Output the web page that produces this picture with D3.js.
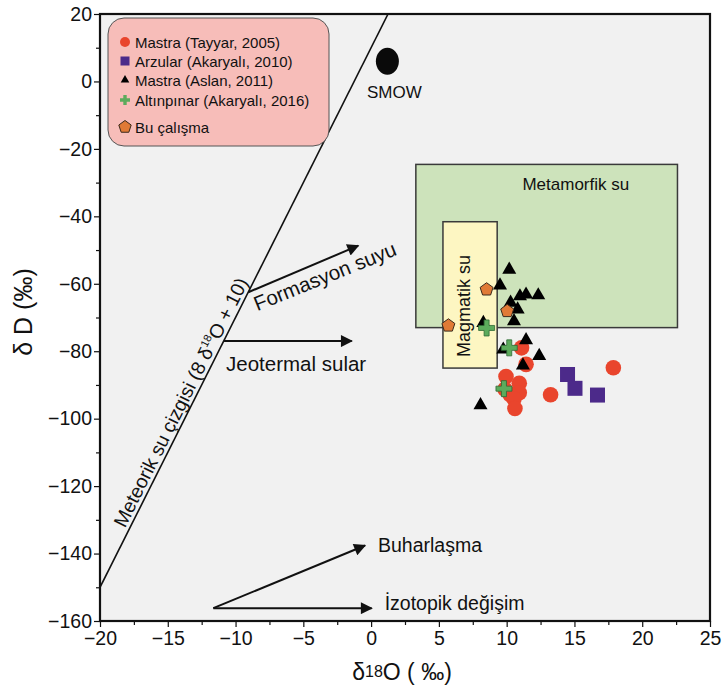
<!DOCTYPE html>
<html>
<head>
<meta charset="utf-8">
<script src="https://cdn.jsdelivr.net/npm/d3@7"></script>
<style>
  html, body { margin: 0; padding: 0; background: #ffffff; }
  svg { display: block; font-family: "Liberation Sans", Arial, sans-serif; }
</style>
</head>
<body>
<svg id="chart" width="724" height="692"></svg>
<script>
// Axis ticks
const xTicks = [-20, -15, -10, -5, 0, 5, 10, 15, 20, 25];
const yTicks = [20, 0, -20, -40, -60, -80, -100, -120, -140, -160];

// Samples: [δ18O, δD]
const tayyar2005 = [[11.1, -79], [11.43, -83.9], [9.95, -87.5], [10.93, -89.5], [9.87, -91.3],
  [10.93, -92.3], [10.24, -92.8], [10.54, -94.1], [10.61, -97], [13.24, -92.9], [17.87, -84.9]];
const arzular2010 = [[14.49, -86.9], [15.04, -91], [16.7, -93]];
const aslan2011 = [[10.19, -55.8], [9.51, -60.5], [10.98, -63.7], [11.43, -63.2], [12.33, -63.4],
  [10.29, -65.6], [10.81, -67.6], [10.54, -71.1], [8.28, -71.6], [11.43, -76.7], [9.75, -79.5],
  [12.4, -81.4], [11.2, -84.2], [8.07, -96]];
const altinpinar2016 = [[8.52, -73.1], [10.19, -79], [9.8, -91.1]];
const buCalisma = [[8.52, -61.7], [10.04, -68.1], [5.7, -72.4]];
const smow = [1.2, 6];

// Water-type fields: [xMin, xMax, yMin, yMax]
const metamorfikBox = [3.3, 22.6, -73, -24.6];
const magmatikBox = [5.3, 9.3, -85, -41.6];

// Meteoric water line: δD = 8 δ18O + 10
const mwlSlope = 8, mwlIntercept = 10;

// Process arrows: [x0, y0, x1, y1]
const formasyonArrow = [-9.06, -62.5, -0.95, -48.7];
const jeotermalArrow = [-10.85, -77, -1.43, -77];
const buharArrow = [-11.64, -156.2, -0.45, -137.6];
const izotopArrow = [-11.64, -156.2, 0.04, -156.2];

const legendItems = [
  { label: "Mastra (Tayyar, 2005)", kind: "circle" },
  { label: "Arzular (Akaryalı, 2010)", kind: "square" },
  { label: "Mastra (Aslan, 2011)", kind: "triangle" },
  { label: "Altınpınar (Akaryalı, 2016)", kind: "cross" },
  { label: "Bu çalışma", kind: "pentagon" }
];

const svg = d3.select("#chart");
const L = 100, R = 710, T = 14, B = 621;
const x = d3.scaleLinear().domain([-20, 25]).range([L, R]);
const y = d3.scaleLinear().domain([-160, 20]).range([B, T]);

svg.append("defs").append("clipPath").attr("id", "plotClip")
  .append("rect").attr("x", L).attr("y", T).attr("width", R - L).attr("height", B - T);
const marker = svg.select("defs").append("marker")
  .attr("id", "head").attr("viewBox", "0 0 10 10").attr("refX", 9).attr("refY", 5)
  .attr("markerWidth", 9).attr("markerHeight", 6).attr("markerUnits", "strokeWidth")
  .attr("orient", "auto");
marker.append("path").attr("d", "M0,0 L10,5 L0,10 Z").attr("fill", "#111");

// Plot background
svg.append("rect").attr("x", L).attr("y", T).attr("width", R - L).attr("height", B - T)
  .attr("fill", "#f1f1f1");

const plot = svg.append("g").attr("clip-path", "url(#plotClip)");

// Fields
function box(b, fill) {
  plot.append("rect")
    .attr("x", x(b[0])).attr("y", y(b[3]))
    .attr("width", x(b[1]) - x(b[0])).attr("height", y(b[2]) - y(b[3]))
    .attr("fill", fill).attr("stroke", "#3a3a3a").attr("stroke-width", 1.5);
}
box(metamorfikBox, "#cde3bb");
box(magmatikBox, "#fdf6c2");

plot.append("text").attr("x", x(15.1)).attr("y", y(-32.3))
  .attr("text-anchor", "middle").attr("font-size", 17).attr("fill", "#111")
  .text("Metamorfik su");
plot.append("text")
  .attr("transform", `translate(470,306) rotate(-90)`)
  .attr("text-anchor", "middle").attr("font-size", 18).attr("fill", "#111")
  .text("Magmatik su");

// Meteoric water line
const mwl = d => mwlSlope * d + mwlIntercept;
plot.append("line")
  .attr("x1", x(-20)).attr("y1", y(mwl(-20)))
  .attr("x2", x(1.25)).attr("y2", y(mwl(1.25)))
  .attr("stroke", "#111").attr("stroke-width", 1.6);

const ang = Math.atan2(y(mwl(1)) - y(mwl(0)), x(1) - x(0)) * 180 / Math.PI;
const mwlText = plot.append("text")
  .attr("transform", `translate(${x(-17.9)},${y(mwl(-17.9))}) rotate(${ang})`)
  .attr("y", -4).attr("font-size", 19.5).attr("fill", "#111");
mwlText.append("tspan").text("Meteorik su çizgisi (8 δ");
mwlText.append("tspan").attr("font-size", 11).attr("dy", -8).text("18");
mwlText.append("tspan").attr("dy", 8).text("O + 10)");

// SMOW
plot.append("ellipse").attr("cx", x(smow[0])).attr("cy", y(smow[1]))
  .attr("rx", 11.5).attr("ry", 13.5).attr("fill", "#0a0a0a");
plot.append("text").attr("x", x(smow[0]) + 7).attr("y", y(smow[1]) + 37)
  .attr("text-anchor", "middle").attr("font-size", 17).attr("fill", "#111").text("SMOW");

// Arrows
function arrow(a) {
  plot.append("line")
    .attr("x1", x(a[0])).attr("y1", y(a[1])).attr("x2", x(a[2])).attr("y2", y(a[3]))
    .attr("stroke", "#111").attr("stroke-width", 2).attr("marker-end", "url(#head)");
}
[formasyonArrow, jeotermalArrow, buharArrow, izotopArrow].forEach(arrow);

const fAng = Math.atan2(y(formasyonArrow[3]) - y(formasyonArrow[1]),
  x(formasyonArrow[2]) - x(formasyonArrow[0])) * 180 / Math.PI;
plot.append("text")
  .attr("transform", `translate(${x(formasyonArrow[0]) + 9},${y(formasyonArrow[1]) + 19}) rotate(${fAng + 1})`)
  .attr("font-size", 20.5).attr("fill", "#111").text("Formasyon suyu");
plot.append("text").attr("x", x(jeotermalArrow[0]) + 2).attr("y", y(jeotermalArrow[1]) + 30)
  .attr("font-size", 20.5).attr("fill", "#111").text("Jeotermal sular");
plot.append("text").attr("x", x(buharArrow[2]) + 13).attr("y", y(buharArrow[3]) + 7)
  .attr("font-size", 19.5).attr("fill", "#111").text("Buharlaşma");
plot.append("text").attr("x", x(izotopArrow[2]) + 13).attr("y", y(izotopArrow[3]) + 2)
  .attr("font-size", 19.5).attr("fill", "#111").text("İzotopik değişim");

// Marker shapes
const crossPath = (s, w) => {
  const a = s / 2, b = w / 2;
  return `M${-b},${-a}H${b}V${-b}H${a}V${b}H${b}V${a}H${-b}V${b}H${-a}V${-b}H${-b}Z`;
};
const pentPath = r => {
  const pts = d3.range(5).map(i => {
    const t = -Math.PI / 2 + i * 2 * Math.PI / 5;
    return [r * Math.cos(t), r * Math.sin(t)];
  });
  return "M" + pts.map(p => p.join(",")).join("L") + "Z";
};
const triPath = d3.symbol(d3.symbolTriangle, 85)();
const triPathSmall = d3.symbol(d3.symbolTriangle, 32)();

const pts = svg.append("g").attr("clip-path", "url(#plotClip)");
pts.selectAll("circle.t").data(tayyar2005).join("circle")
  .attr("cx", d => x(d[0])).attr("cy", d => y(d[1])).attr("r", 7.8)
  .attr("fill", "#e9452d");
pts.selectAll("rect.a").data(arzular2010).join("rect")
  .attr("x", d => x(d[0]) - 7.5).attr("y", d => y(d[1]) - 7.5)
  .attr("width", 15).attr("height", 15).attr("fill", "#4c2a8a");
pts.selectAll("path.tri").data(aslan2011).join("path")
  .attr("transform", d => `translate(${x(d[0])},${y(d[1])})`)
  .attr("d", triPath).attr("fill", "#000");
pts.selectAll("path.cr").data(altinpinar2016).join("path")
  .attr("transform", d => `translate(${x(d[0])},${y(d[1])})`)
  .attr("d", crossPath(16, 5)).attr("fill", "#5cab5c").attr("stroke", "#2e6a35").attr("stroke-width", 0.8);
pts.selectAll("path.pe").data(buCalisma).join("path")
  .attr("transform", d => `translate(${x(d[0])},${y(d[1])})`)
  .attr("d", pentPath(6.8)).attr("fill", "#e07a36").attr("stroke", "#3b2a1c").attr("stroke-width", 1);

// Legend
const lg = svg.append("g");
lg.append("rect").attr("x", 108).attr("y", 18).attr("width", 221).attr("height", 128)
  .attr("rx", 16).attr("fill", "#f7bdb9").attr("stroke", "#555").attr("stroke-width", 1);
const rowY = [42, 61, 80, 100, 127];
legendItems.forEach((it, i) => {
  const cy = rowY[i], cx = 125;
  const g = lg.append("g").attr("transform", `translate(${cx},${cy})`);
  if (it.kind === "circle") g.append("circle").attr("r", 5).attr("fill", "#e9452d");
  if (it.kind === "square") g.append("rect").attr("x", -4.5).attr("y", -4.5).attr("width", 9).attr("height", 9).attr("fill", "#4c2a8a");
  if (it.kind === "triangle") g.append("path").attr("d", triPathSmall).attr("fill", "#000");
  if (it.kind === "cross") g.append("path").attr("d", crossPath(10, 3.4)).attr("fill", "#5cab5c");
  if (it.kind === "pentagon") g.append("path").attr("d", pentPath(6.5)).attr("fill", "#e07a36").attr("stroke", "#3b2a1c");
  lg.append("text").attr("x", 135).attr("y", cy + 5.5).attr("font-size", 15).attr("fill", "#111").text(it.label);
});

// Axes
svg.append("g").attr("transform", `translate(0,${B})`)
  .call(d3.axisBottom(x).tickValues(xTicks).tickFormat(d3.format("d")).tickSize(6).tickPadding(4));
svg.append("g").attr("transform", `translate(0,${B})`)
  .call(d3.axisBottom(x).tickValues(d3.range(-17.5, 25, 5)).tickFormat("").tickSize(4))
  .call(g => g.select(".domain").remove());
svg.append("g").attr("transform", `translate(${L},0)`)
  .call(d3.axisLeft(y).tickValues(yTicks).tickFormat(d3.format("d")).tickSize(6).tickPadding(2));
svg.append("g").attr("transform", `translate(${L},0)`)
  .call(d3.axisLeft(y).tickValues(d3.range(-150, 20, 20)).tickFormat("").tickSize(4))
  .call(g => g.select(".domain").remove());
svg.selectAll(".tick line").attr("stroke", "#111").attr("stroke-width", 1.2);
svg.selectAll(".tick text").attr("font-size", 19.5).attr("fill", "#111")
  .attr("font-family", "'Liberation Sans', Arial, sans-serif");
svg.selectAll(".domain").remove();

// Frame
svg.append("rect").attr("x", L).attr("y", T).attr("width", R - L).attr("height", B - T)
  .attr("fill", "none").attr("stroke", "#111").attr("stroke-width", 2.2);

// Axis titles
const xt = svg.append("text").attr("x", 402).attr("y", 680).attr("text-anchor", "middle")
  .attr("font-size", 23).attr("fill", "#111");
xt.append("tspan").text("δ");
xt.append("tspan").attr("font-size", 16).attr("dy", -3).text("18");
xt.append("tspan").attr("dy", 3).text("O ( ‰)");
svg.append("text").attr("transform", "translate(32,312) rotate(-90)")
  .attr("text-anchor", "middle").attr("font-size", 25).attr("fill", "#111").text("δ D (‰)");
</script>
</body>
</html>
